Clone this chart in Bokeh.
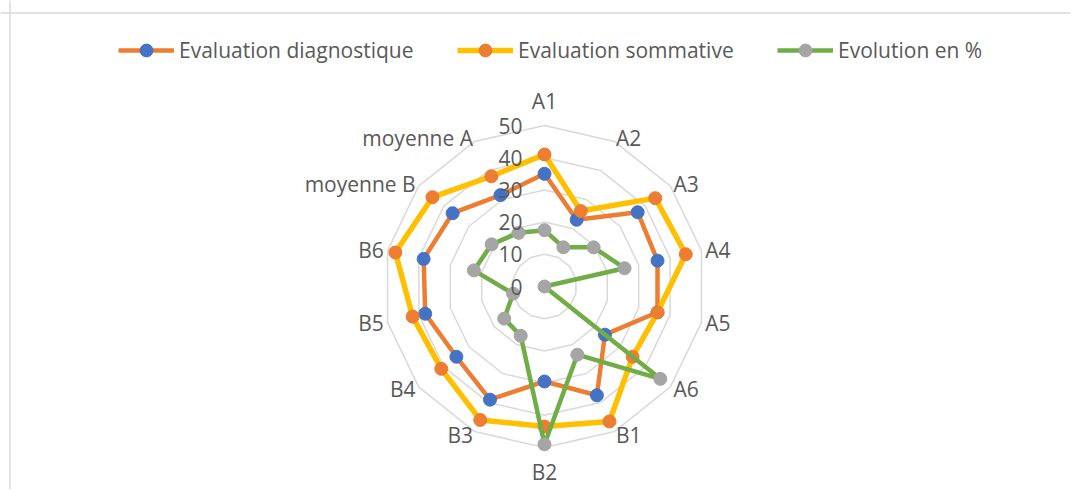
import math
from bokeh.plotting import figure
from bokeh.models import Range1d, Legend, LegendItem, Span, ColumnDataSource
from bokeh.core.properties import value
from bokeh.embed import file_html
from bokeh.resources import INLINE

categories = ["A1", "A2", "A3", "A4", "A5", "A6", "B1", "B2", "B3", "B4", "B5", "B6",
              "moyenne B", "moyenne A"]
diagnostique = [35, 23, 37, 36, 36, 24, 37.5, 29.5, 39, 35, 38, 38.5, 36.5, 31.5]
sommative = [41, 26, 44, 45, 36, 35, 46.5, 43.5, 46, 41, 42, 47.5, 44.5, 38]
evolution = [17.5, 13.5, 19.5, 25.5, 0, 46, 23.5, 49, 17, 16, 10, 22.5, 21, 18.5]
tick_values = [0, 10, 20, 30, 40, 50]
tick_labels = ["0", "10", "20", "30", "40", "50"]
series_names = ["Evaluation diagnostique", "Evaluation sommative", "Evolution en %"]

LINE_COLORS = ["#ED7D31", "#FFC000", "#70AD47"]
MARK_COLORS = ["#4472C4", "#ED7D31", "#A5A5A5"]
LINE_WIDTHS = [4.5, 5.5, 4.5]
LEGEND_X = [118, 457, 777]
TEXT = "#595959"
GRID = "#D9D9D9"
FONT = "Open Sans"
FSIZE = "21px"

W, H = 1070, 489
S = 3.22           # pixels per value unit
CX, CY_TOP = 544, 286

p = figure(width=W, height=H, output_backend="svg", toolbar_location=None,
           x_range=Range1d(-CX / S, (W - CX) / S),
           y_range=Range1d(-(H - CY_TOP) / S, CY_TOP / S),
           min_border=0)
p.axis.visible = False
p.grid.visible = False
p.outline_line_color = None
p.background_fill_color = "white"
p.border_fill_color = "white"

n = len(categories)
angles = [2 * math.pi * i / n for i in range(n)]


def polar(vals):
    xs = [v * math.sin(a) for v, a in zip(vals, angles)]
    ys = [v * math.cos(a) for v, a in zip(vals, angles)]
    return xs, ys


# chart border (top and left edges visible in the crop)
p.add_layout(Span(location=(9.5 - CX) / S, dimension="height", line_color=GRID, line_width=1.5))
p.add_layout(Span(location=(CY_TOP - 12.5) / S, dimension="width", line_color=GRID, line_width=1.5))

# grid polygons
for t in tick_values[1:]:
    xs, ys = polar([t] * n)
    p.line(xs + xs[:1], ys + ys[:1], line_color=GRID, line_width=1.5)

for name, vals, lc, mc, lw, lx in zip(series_names, [diagnostique, sommative, evolution],
                                      LINE_COLORS, MARK_COLORS, LINE_WIDTHS, LEGEND_X):
    xs, ys = polar(vals)
    lr = p.line(xs + xs[:1], ys + ys[:1], line_color=lc, line_width=lw, line_join="round")
    sr = p.scatter(xs, ys, size=13, fill_color=mc, line_color=mc, marker="circle")
    legend = Legend(items=[LegendItem(label=name, renderers=[lr, sr])],
                    orientation="horizontal", location=(lx, H - 50 - 16),
                    glyph_width=56, glyph_height=32, label_standoff=5,
                    padding=0, margin=0, border_line_color=None, background_fill_alpha=0,
                    label_text_font=FONT, label_text_font_size=FSIZE,
                    label_text_color=TEXT)
    p.add_layout(legend)

# radial tick labels
p.text(x=[-22 / S] * len(tick_values), y=tick_values, text=tick_labels,
       text_align="right", text_baseline="middle", text_color=TEXT,
       text_font=value(FONT), text_font_size=FSIZE)

# category labels
groups = {}
for cat, a in zip(categories, angles):
    sa, ca = math.sin(a), math.cos(a)
    if abs(sa) < 0.05:
        r = 53.4
        align = "center"
        base = "bottom" if ca > 0 else "top"
    else:
        r = 51.2
        align = "left" if sa > 0 else "right"
        base = "middle"
    g = groups.setdefault((align, base), {"x": [], "y": [], "t": []})
    g["x"].append(r * sa)
    g["y"].append(r * ca)
    g["t"].append(cat)

for (align, base), g in groups.items():
    src = ColumnDataSource(dict(x=g["x"], y=g["y"], t=g["t"]))
    p.text(x="x", y="y", text="t", source=src, text_align=align, text_baseline=base,
           text_color=TEXT, text_font=value(FONT), text_font_size=FSIZE)

open("out.html", "w").write(file_html(p, INLINE))
